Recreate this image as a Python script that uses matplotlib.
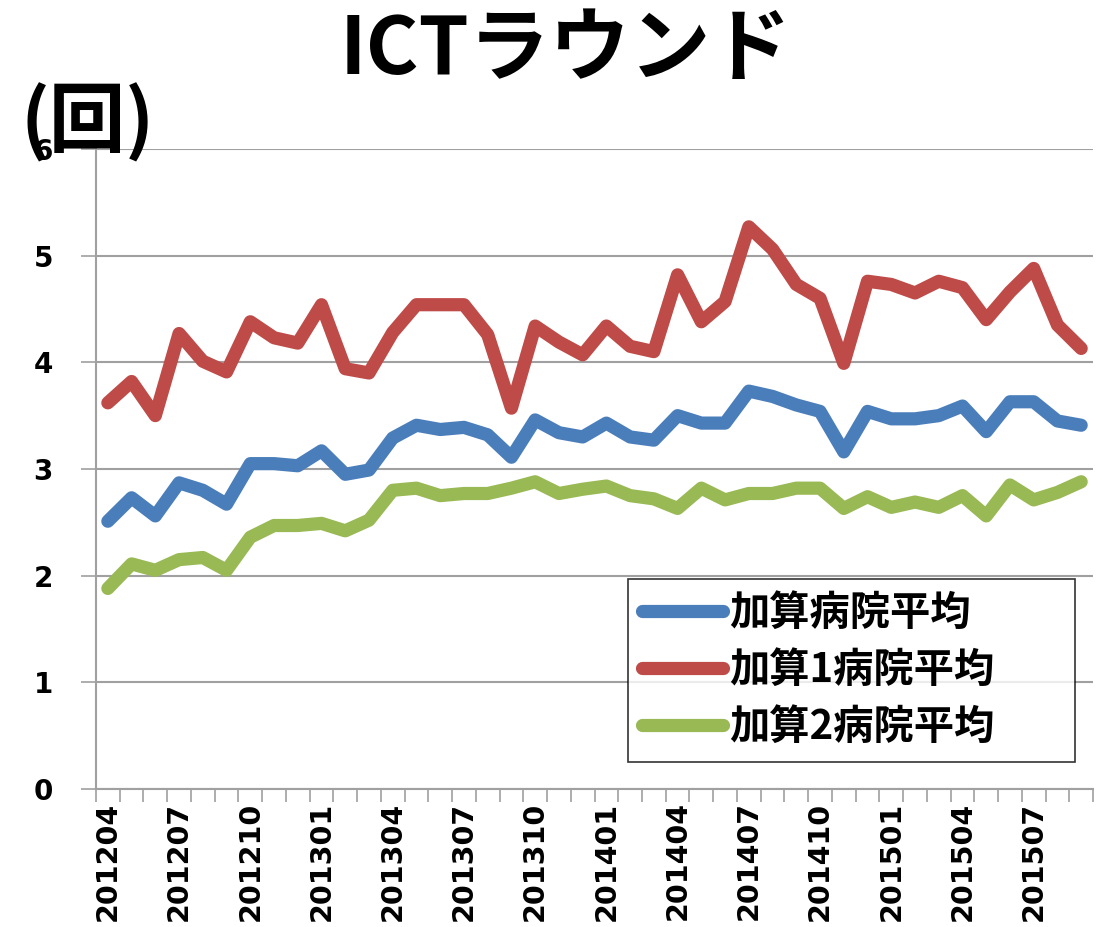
import matplotlib
matplotlib.use("Agg")
import matplotlib.pyplot as plt

plt.rcParams['font.family'] = ['Noto Sans CJK JP', 'DejaVu Sans']

# monthly values 201204 - 201509
months = []
for y in (2012, 2013, 2014, 2015):
    for m in range(1, 13):
        ym = y * 100 + m
        if 201204 <= ym <= 201509:
            months.append(str(ym))

avg_all = [2.51, 2.73, 2.56, 2.87, 2.80, 2.67, 3.05, 3.05, 3.03, 3.17,
           2.95, 2.99, 3.29, 3.41, 3.37, 3.39, 3.32, 3.11, 3.46, 3.34,
           3.30, 3.43, 3.30, 3.27, 3.50, 3.43, 3.43, 3.73, 3.68, 3.60,
           3.54, 3.16, 3.54, 3.47, 3.47, 3.50, 3.59, 3.35, 3.63, 3.63,
           3.45, 3.41]
avg_1 = [3.62, 3.82, 3.50, 4.27, 4.01, 3.91, 4.38, 4.23, 4.18, 4.54,
         3.94, 3.90, 4.28, 4.54, 4.54, 4.54, 4.26, 3.57, 4.34, 4.19,
         4.07, 4.34, 4.15, 4.10, 4.82, 4.38, 4.57, 5.27, 5.06, 4.73,
         4.60, 3.99, 4.76, 4.73, 4.65, 4.76, 4.70, 4.40, 4.66, 4.88,
         4.35, 4.13]
avg_2 = [1.88, 2.11, 2.05, 2.15, 2.17, 2.05, 2.36, 2.47, 2.47, 2.49,
         2.42, 2.52, 2.80, 2.82, 2.75, 2.77, 2.77, 2.82, 2.88, 2.77,
         2.81, 2.84, 2.75, 2.72, 2.63, 2.82, 2.71, 2.77, 2.77, 2.82,
         2.82, 2.63, 2.74, 2.64, 2.69, 2.64, 2.75, 2.56, 2.85, 2.71,
         2.78, 2.88]

series = [
    ("加算病院平均", avg_all, "#4A7EBB"),
    ("加算1病院平均", avg_1, "#BE4B48"),
    ("加算2病院平均", avg_2, "#98B954"),
]

fig = plt.figure(figsize=(11.07, 9.27), dpi=100)
ax = fig.add_axes([0.0867, 0.1489, 0.9007, 0.6904])

x = list(range(len(months)))
for name, vals, col in series:
    ax.plot(x, vals, color=col, lw=9.5, solid_joinstyle='round',
            solid_capstyle='round', label=name, zorder=3)

ax.set_ylim(0, 6)
ax.set_xlim(-0.5, len(months) - 0.5)
ax.set_yticks(range(7))
ax.set_yticklabels([str(v) for v in range(7)], fontsize=20,
                   fontweight='bold', family='DejaVu Sans')
ax.yaxis.grid(True, color='#A0A0A0', lw=1.5)
ax.set_axisbelow(True)

# boundary ticks without labels, labels at every 3rd month
ax.set_xticks([i - 0.5 for i in range(len(months) + 1)])
ax.set_xticklabels([])
ax.set_xticks(x[::3], minor=True)
ax.set_xticklabels(months[::3], minor=True, rotation=90, fontsize=20.5,
                   fontweight='bold', family='DejaVu Sans')
ax.tick_params(axis='x', which='major', length=9, width=1.2, color='#A0A0A0')
ax.tick_params(axis='x', which='minor', length=0, pad=9)
ax.tick_params(axis='y', length=11, width=1.2, color='#A0A0A0', pad=20)

for s in ('top', 'right'):
    ax.spines[s].set_visible(False)
for s in ('left', 'bottom'):
    ax.spines[s].set_color('#A0A0A0')
    ax.spines[s].set_linewidth(1.5)

leg = ax.legend(loc='lower left', bbox_to_anchor=(0.5336, 0.042, 0.448, 0.274),
                mode='expand', prop={'size': 29, 'weight': 'bold'},
                frameon=True, fancybox=False,
                edgecolor='black', handlelength=2.0, handletextpad=0.15,
                labelspacing=0.4, borderpad=0.35, borderaxespad=0)
leg.get_frame().set_linewidth(1.2)

fig.text(0.511, 0.945, "ICTラウンド", ha='center', va='center',
         fontsize=58, fontweight='bold')
fig.text(0.0795, 0.868, "(回)", ha='center', va='center',
         fontsize=55, fontweight='bold')

fig.savefig("out.png", dpi=100)
